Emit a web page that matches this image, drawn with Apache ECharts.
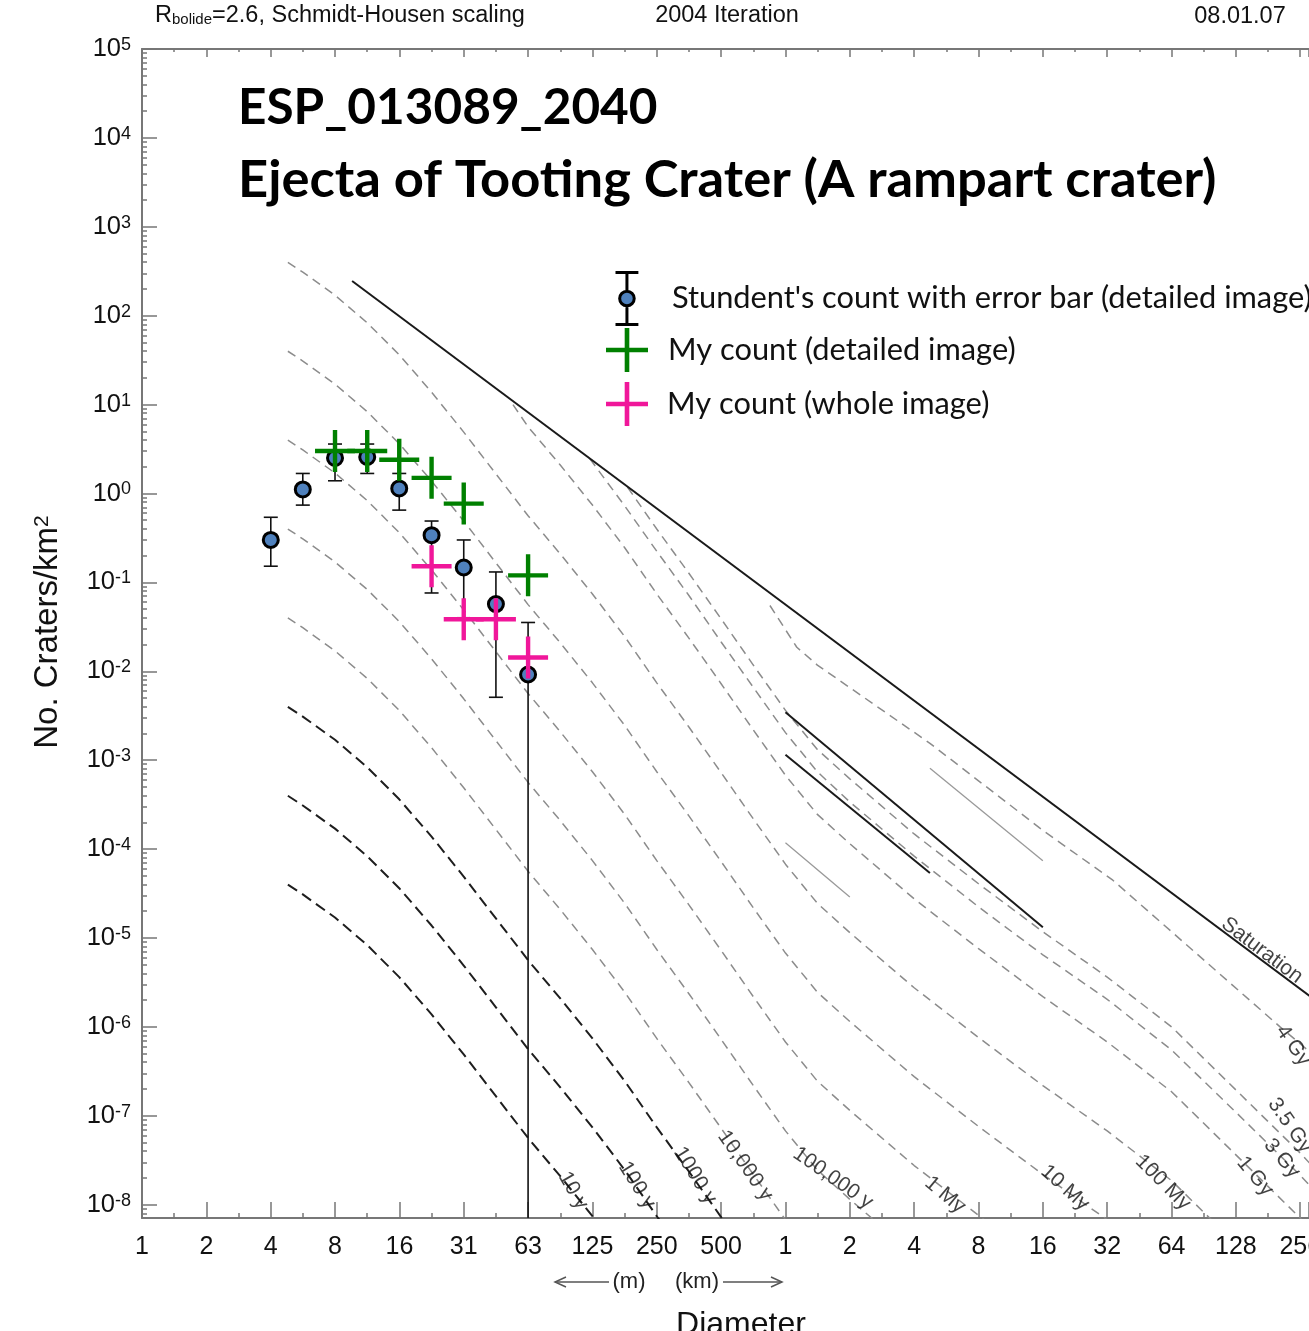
<!DOCTYPE html>
<html>
<head>
<meta charset="utf-8">
<title>ESP_013089_2040 crater counts</title>
<script src="https://cdn.jsdelivr.net/npm/echarts@6/dist/echarts.min.js"></script>
<style>
html, body { margin: 0; padding: 0; background: #fff; }
#main { width: 1309px; height: 1331px; }
</style>
</head>
<body>
<div id="main"></div>
<script>
// x axis: log2 of diameter in km, ticks every factor of 2
const xTickLabels = ['1', '2', '4', '8', '16', '31', '63', '125', '250', '500',
  '1', '2', '4', '8', '16', '32', '64', '128', '256']
const yExponents = [-8, -7, -6, -5, -4, -3, -2, -1, 0, 1, 2, 3, 4, 5]

// student's count (diameter in m, craters/km2, error bar ends; 0 = down to axis)
const studentD = [3.91, 5.52, 7.81, 11.05, 15.6, 22.1, 31.25, 44.2, 62.5]
const studentN = [0.30, 1.11, 2.51, 2.58, 1.14, 0.34, 0.147, 0.057, 0.0092]
const studentHigh = [0.54, 1.68, 3.6, 3.6, 1.68, 0.49, 0.30, 0.131, 0.0354]
const studentLow = [0.152, 0.74, 1.39, 1.68, 0.65, 0.076, 0.04, 0.0051, 0]

// my counts
const detailD = [7.81, 11.05, 15.6, 22.1, 31.25, 62.5]
const detailN = [3.0, 3.0, 2.4, 1.5, 0.77, 0.12]
const wholeD = [22.1, 31.25, 44.2, 62.5]
const wholeN = [0.152, 0.0385, 0.0385, 0.0143]

// isochrons: diameters (km) of the nodes, and log10 N read at those nodes
const isoNodesKm = [0.0047, 0.00552, 0.00781, 0.01105, 0.0156, 0.0221, 0.03125, 0.0442,
  0.0625, 0.0884, 0.125, 0.177, 0.25, 0.354, 0.5, 0.707, 1, 1.41, 2, 4, 8, 16, 32, 64, 128, 256, 290]
const iso10y = [-4.40, -4.51, -4.77, -5.08, -5.44, -5.86, -6.31, -6.78, -7.25, -7.68, -8.13, -8.61]
const iso100y = [-3.40, -3.51, -3.77, -4.08, -4.44, -4.86, -5.31, -5.78, -6.25, -6.68, -7.13, -7.61, -8.13, -8.63]
const iso1000y = [-2.40, -2.51, -2.77, -3.08, -3.44, -3.86, -4.31, -4.78, -5.25, -5.68, -6.13, -6.61, -7.13,
  -7.63, -8.14, -8.66]
const iso10ky = [-1.40, -1.51, -1.77, -2.08, -2.44, -2.86, -3.31, -3.78, -4.25, -4.68, -5.13, -5.61, -6.13,
  -6.63, -7.14, -7.66, -8.17, -8.61]
const iso100ky = [-0.40, -0.51, -0.77, -1.08, -1.44, -1.86, -2.31, -2.78, -3.25, -3.68, -4.13, -4.61, -5.13,
  -5.63, -6.14, -6.66, -7.17, -7.61, -7.94, -8.56]
const iso1My = [0.60, 0.49, 0.23, -0.08, -0.44, -0.86, -1.31, -1.78, -2.25, -2.68, -3.13, -3.61, -4.13,
  -4.63, -5.14, -5.66, -6.17, -6.61, -6.94, -7.56, -8.12, -8.66]
const iso10My = [1.60, 1.49, 1.23, 0.92, 0.56, 0.14, -0.31, -0.78, -1.25, -1.68, -2.13, -2.61, -3.13,
  -3.63, -4.14, -4.66, -5.17, -5.61, -5.94, -6.56, -7.12, -7.66, -8.17, -8.73]
const iso100My = [2.60, 2.49, 2.23, 1.92, 1.56, 1.14, 0.69, 0.22, -0.25, -0.68, -1.13, -1.61, -2.13,
  -2.63, -3.14, -3.66, -4.17, -4.61, -4.94, -5.56, -6.12, -6.66, -7.17, -7.73, -8.44]
// older isochrons start at the saturation line: [D km, log10 N]
const iso1Gy = [[0.0531, 1.0], [0.0625, 0.75], [0.0884, 0.32], [0.125, -0.13], [0.177, -0.61], [0.25, -1.13],
  [0.354, -1.63], [0.5, -2.14], [0.707, -2.66], [1, -3.17], [1.41, -3.61], [2, -3.94], [4, -4.56], [8, -5.12],
  [16, -5.66], [32, -6.17], [64, -6.73], [128, -7.44], [256, -8.15], [290, -8.29]]
const iso3Gy = [[0.1216, 0.39], [0.177, -0.14], [0.25, -0.65], [0.354, -1.15], [0.5, -1.67], [0.707, -2.18],
  [1, -2.69], [1.41, -3.13], [2, -3.47], [4, -4.08], [8, -4.65], [16, -5.19], [32, -5.69], [64, -6.26],
  [128, -6.96], [256, -7.67], [290, -7.81]]
const iso35Gy = [[0.1825, 0.07], [0.25, -0.40], [0.354, -0.90], [0.5, -1.41], [0.707, -1.93], [1, -2.44],
  [1.41, -2.88], [2, -3.21], [4, -3.83], [8, -4.39], [16, -4.93], [32, -5.44], [64, -6.00], [128, -6.71],
  [256, -7.42], [290, -7.56]]
const iso4Gy = [[0.846, -1.26], [1.13, -1.73], [1.41, -1.93], [4.74, -2.81], [16, -3.79], [34, -4.35],
  [206, -6.00], [290, -6.30]]
const saturation = [[0.00939, 2.39], [290, -5.67]]
const solidUpper = [[1, -2.46], [16, -4.88]]
const solidLower = [[1, -2.94], [4.74, -4.27]]
const thinSegA = [[1, -3.93], [2, -4.54]]
const thinSegB = [[4.74, -3.09], [16, -4.13]]

// line labels: text, D km, log10 N, rotation
const isoLabels = [
  ['10 y', 0.1015, -7.84, -60], ['100 y', 0.2016, -7.78, -58], ['1000 y', 0.377, -7.67, -58],
  ['10,000 y', 0.647, -7.56, -55], ['100,000 y', 1.668, -7.70, -35], ['1 My', 5.57, -7.89, -40],
  ['10 My', 20.3, -7.81, -42], ['100 My', 58.3, -7.75, -45], ['1 Gy', 157, -7.68, -50],
  ['3 Gy', 210, -7.48, -50], ['3.5 Gy', 229, -7.11, -55], ['4 Gy', 237, -6.21, -55],
  ['Saturation', 169.5, -5.14, -37]
]

const xMin = -10
const xMax = 8.136
const yMin = -8.15
const lx = d => Math.log2(d)
const lg = Math.log10

const grayDash = { color: '#8c8c8c', width: 1.5, type: [9, 6] }
const blackDash = { color: '#1e1e1e', width: 2, type: [11, 6] }
const blackSolid = { color: '#1a1a1a', width: 2 }
const graySolid = { color: '#999', width: 1.3 }

function nodeLine (name, vals, style) {
  return {
    type: 'line', name, silent: true, symbol: 'none', clip: true, z: 2,
    lineStyle: style, data: vals.map((v, i) => [lx(isoNodesKm[i]), v])
  }
}
function pairLine (name, pts, style) {
  return {
    type: 'line', name, silent: true, symbol: 'none', clip: true, z: 2,
    lineStyle: style, data: pts.map(p => [lx(p[0]), p[1]])
  }
}

const minorVals = []
for (let n = -9; n <= 4; n++) {
  for (let k = 2; k <= 9; k++) {
    const v = n + Math.log10(k)
    if (v > yMin && v < 5) minorVals.push(v)
  }
}

const crossPath = 'path://M0,18.8 L40,18.8 L40,23.2 L0,23.2 Z M17.8,0 L22.2,0 L22.2,42 L17.8,42 Z'
const studentIcon = 'path://M0,1 L22,1 M11,1 L11,18 M11,34 L11,51 M0,51 L22,51 ' +
  'M4,26 A7,7 0 1 1 18,26 A7,7 0 1 1 4,26 Z'
const studentName = "Stundent's count with error bar (detailed image)"
const detailName = 'My count (detailed image)'
const wholeName = 'My count (whole image)'

const legendText = pad => ({ fontFamily: 'Lato', fontSize: 30.8, color: '#111', padding: [0, 0, 0, pad] })
const legendBase = { orient: 'vertical', padding: 0, itemWidth: 42, itemHeight: 52, selectedMode: false }

const axisGray = '#777'
const option = {
  animation: false,
  grid: { left: 142, right: 0, top: 49, bottom: 113, show: false, containLabel: false, outerBoundsMode: 'none' },
  legend: [
    Object.assign({}, legendBase, {
      left: 614, top: 271, textStyle: legendText(19),
      data: [{ name: studentName, icon: studentIcon, itemStyle: { color: '#4f81bd', borderColor: '#000', borderWidth: 3 } }]
    }),
    Object.assign({}, legendBase, { left: 606, top: 328, textStyle: legendText(15), data: [{ name: detailName, icon: crossPath }] }),
    Object.assign({}, legendBase, { left: 606, top: 382, textStyle: legendText(14), data: [{ name: wholeName, icon: crossPath }] })
  ],
  xAxis: [
    {
      type: 'value', min: xMin, max: xMax, interval: 1, position: 'bottom',
      axisLine: { onZero: false, lineStyle: { color: axisGray, width: 2 } },
      axisTick: { inside: true, length: 16, lineStyle: { color: axisGray, width: 1.5 } },
      minorTick: { show: true, splitNumber: 2, length: 5, lineStyle: { color: axisGray, width: 1.5 } },
      axisLabel: {
        formatter: v => (Number.isInteger(v) ? xTickLabels[v + 10] : ''),
        fontFamily: 'Liberation Sans', fontSize: 25, color: '#111', margin: 17
      },
      splitLine: { show: false }
    },
    {
      type: 'value', min: xMin, max: xMax, interval: 1, position: 'top',
      axisLine: { onZero: false, lineStyle: { color: axisGray, width: 2 } },
      axisTick: { inside: true, length: 8, lineStyle: { color: axisGray, width: 1.5 } },
      minorTick: { show: true, splitNumber: 2, length: 3, lineStyle: { color: axisGray, width: 1.5 } },
      axisLabel: { show: false },
      splitLine: { show: false }
    }
  ],
  yAxis: [
    {
      type: 'value', min: yMin, max: 5, position: 'left',
      axisLine: { show: true, onZero: false, lineStyle: { color: axisGray, width: 2 } },
      axisTick: { show: true, inside: true, length: 15, customValues: yExponents, lineStyle: { color: axisGray, width: 1.5 } },
      axisLabel: {
        customValues: yExponents, margin: 11,
        formatter: v => '{b|10}{s|' + v + '}',
        rich: {
          b: { fontFamily: 'Liberation Sans', fontSize: 25.5, lineHeight: 26, color: '#111' },
          s: { fontFamily: 'Liberation Sans', fontSize: 18, lineHeight: 15, color: '#111', verticalAlign: 'top' }
        }
      },
      splitLine: { show: false }
    },
    {
      type: 'value', min: yMin, max: 5, position: 'left',
      axisLine: { show: false, onZero: false },
      axisTick: { show: true, inside: true, length: 5, customValues: minorVals, lineStyle: { color: axisGray, width: 1.5 } },
      axisLabel: { show: false },
      splitLine: { show: false }
    }
  ],
  graphic: [
    {
      type: 'text', x: 155, y: 16,
      style: {
        text: '{r|R}{s|bolide}{r|=2.6, Schmidt-Housen scaling}', verticalAlign: 'middle', textVerticalAlign: 'middle',
        rich: {
          r: { fontFamily: 'Liberation Sans', fontSize: 23.5, lineHeight: 23, fill: '#111' },
          s: { fontFamily: 'Liberation Sans', fontSize: 15, lineHeight: 8, fill: '#111', verticalAlign: 'bottom' }
        }
      }
    },
    {
      type: 'text', x: 727, y: 16,
      style: { text: '2004 Iteration', fontFamily: 'Liberation Sans', fontSize: 23.5, fill: '#111',
        align: 'center', textAlign: 'center', verticalAlign: 'middle', textVerticalAlign: 'middle' }
    },
    {
      type: 'text', x: 1240, y: 17,
      style: { text: '08.01.07', fontFamily: 'Liberation Sans', fontSize: 23.5, fill: '#111',
        align: 'center', textAlign: 'center', verticalAlign: 'middle', textVerticalAlign: 'middle' }
    },
    {
      type: 'text', x: 238, y: 108,
      style: { text: 'ESP_013089_2040', fontFamily: 'Lato', fontWeight: 'bold', fontSize: 49.5, fill: '#000',
        verticalAlign: 'middle', textVerticalAlign: 'middle' }
    },
    {
      type: 'text', x: 238, y: 180,
      style: { text: 'Ejecta of Tooting Crater (A rampart crater)', fontFamily: 'Lato', fontWeight: 'bold',
        fontSize: 52.5, fill: '#000', verticalAlign: 'middle', textVerticalAlign: 'middle' }
    },
    {
      type: 'text', x: 48, y: 632, rotation: Math.PI / 2,
      style: {
        text: '{a|No. Craters/km}{b|2}', align: 'center', textAlign: 'center', verticalAlign: 'middle', textVerticalAlign: 'middle',
        rich: {
          a: { fontFamily: 'Liberation Sans', fontSize: 33, lineHeight: 33, fill: '#111' },
          b: { fontFamily: 'Liberation Sans', fontSize: 21, lineHeight: 18, fill: '#111', verticalAlign: 'top' }
        }
      }
    },
    {
      type: 'text', x: 629, y: 1282,
      style: { text: '(m)', fontFamily: 'Liberation Sans', fontSize: 22, fill: '#222',
        align: 'center', textAlign: 'center', verticalAlign: 'middle', textVerticalAlign: 'middle' }
    },
    {
      type: 'text', x: 697, y: 1282,
      style: { text: '(km)', fontFamily: 'Liberation Sans', fontSize: 22, fill: '#222',
        align: 'center', textAlign: 'center', verticalAlign: 'middle', textVerticalAlign: 'middle' }
    },
    { type: 'line', shape: { x1: 555, y1: 1282, x2: 609, y2: 1282 }, style: { stroke: '#555', lineWidth: 1.5 } },
    { type: 'polyline', shape: { points: [[566, 1277], [555, 1282], [566, 1287]] }, style: { stroke: '#555', lineWidth: 1.5, fill: null } },
    { type: 'line', shape: { x1: 723, y1: 1282, x2: 782, y2: 1282 }, style: { stroke: '#555', lineWidth: 1.5 } },
    { type: 'polyline', shape: { points: [[771, 1277], [782, 1282], [771, 1287]] }, style: { stroke: '#555', lineWidth: 1.5, fill: null } },
    {
      type: 'text', x: 741, y: 1309,
      style: { text: 'Diameter', fontFamily: 'Liberation Sans', fontSize: 32, fill: '#111',
        align: 'center', textAlign: 'center', verticalAlign: 'top', textVerticalAlign: 'top' }
    }
  ],
  series: [
    nodeLine('10 y', iso10y, blackDash),
    nodeLine('100 y', iso100y, blackDash),
    nodeLine('1000 y', iso1000y, blackDash),
    nodeLine('10,000 y', iso10ky, grayDash),
    nodeLine('100,000 y', iso100ky, grayDash),
    nodeLine('1 My', iso1My, grayDash),
    nodeLine('10 My', iso10My, grayDash),
    nodeLine('100 My', iso100My, grayDash),
    pairLine('1 Gy', iso1Gy, grayDash),
    pairLine('3 Gy', iso3Gy, grayDash),
    pairLine('3.5 Gy', iso35Gy, grayDash),
    pairLine('4 Gy', iso4Gy, grayDash),
    pairLine('Saturation', saturation, blackSolid),
    pairLine('upper', solidUpper, blackSolid),
    pairLine('lower', solidLower, blackSolid),
    pairLine('segA', thinSegA, graySolid),
    pairLine('segB', thinSegB, graySolid),
    {
      type: 'scatter', name: 'labels', silent: true, symbolSize: 0, z: 6,
      data: isoLabels.map(l => ({ value: [lx(l[1]), l[2]], text: l[0], label: { rotate: l[3] } })),
      label: {
        show: true, position: 'inside', formatter: p => p.data.text,
        fontFamily: 'Liberation Sans', fontSize: 21, color: '#111'
      }
    },
    {
      type: 'custom', name: 'errors', silent: true, z: 3,
      data: studentD.map((d, i) => [lx(d / 1000), studentLow[i] > 0 ? lg(studentLow[i]) : -99, lg(studentHigh[i])]),
      renderItem: (params, api) => {
        const x = api.value(0)
        const lo = api.value(1)
        const hi = api.value(2)
        const pHi = api.coord([x, hi])
        const pLo = api.coord([x, Math.max(lo, yMin)])
        const st = { stroke: '#111', lineWidth: 1.6 }
        const kids = [
          { type: 'line', shape: { x1: pHi[0], y1: pHi[1], x2: pLo[0], y2: pLo[1] }, style: st },
          { type: 'line', shape: { x1: pHi[0] - 7, y1: pHi[1], x2: pHi[0] + 7, y2: pHi[1] }, style: st }
        ]
        if (lo >= yMin) {
          kids.push({ type: 'line', shape: { x1: pLo[0] - 7, y1: pLo[1], x2: pLo[0] + 7, y2: pLo[1] }, style: st })
        }
        return { type: 'group', children: kids }
      }
    },
    {
      type: 'scatter', name: studentName, z: 4, symbol: 'circle', symbolSize: 15,
      itemStyle: { color: '#4f81bd', borderColor: '#000', borderWidth: 3, opacity: 1 },
      data: studentD.map((d, i) => [lx(d / 1000), lg(studentN[i])])
    },
    {
      type: 'scatter', name: detailName, z: 5, symbol: crossPath, symbolSize: [40, 42],
      itemStyle: { color: '#008000', opacity: 1 },
      data: detailD.map((d, i) => [lx(d / 1000), lg(detailN[i])])
    },
    {
      type: 'scatter', name: wholeName, z: 5, symbol: crossPath, symbolSize: [40, 42],
      itemStyle: { color: '#f0179a', opacity: 1 },
      data: wholeD.map((d, i) => [lx(d / 1000), lg(wholeN[i])])
    }
  ]
}

echarts.init(document.getElementById('main')).setOption(option)
</script>
</body>
</html>
